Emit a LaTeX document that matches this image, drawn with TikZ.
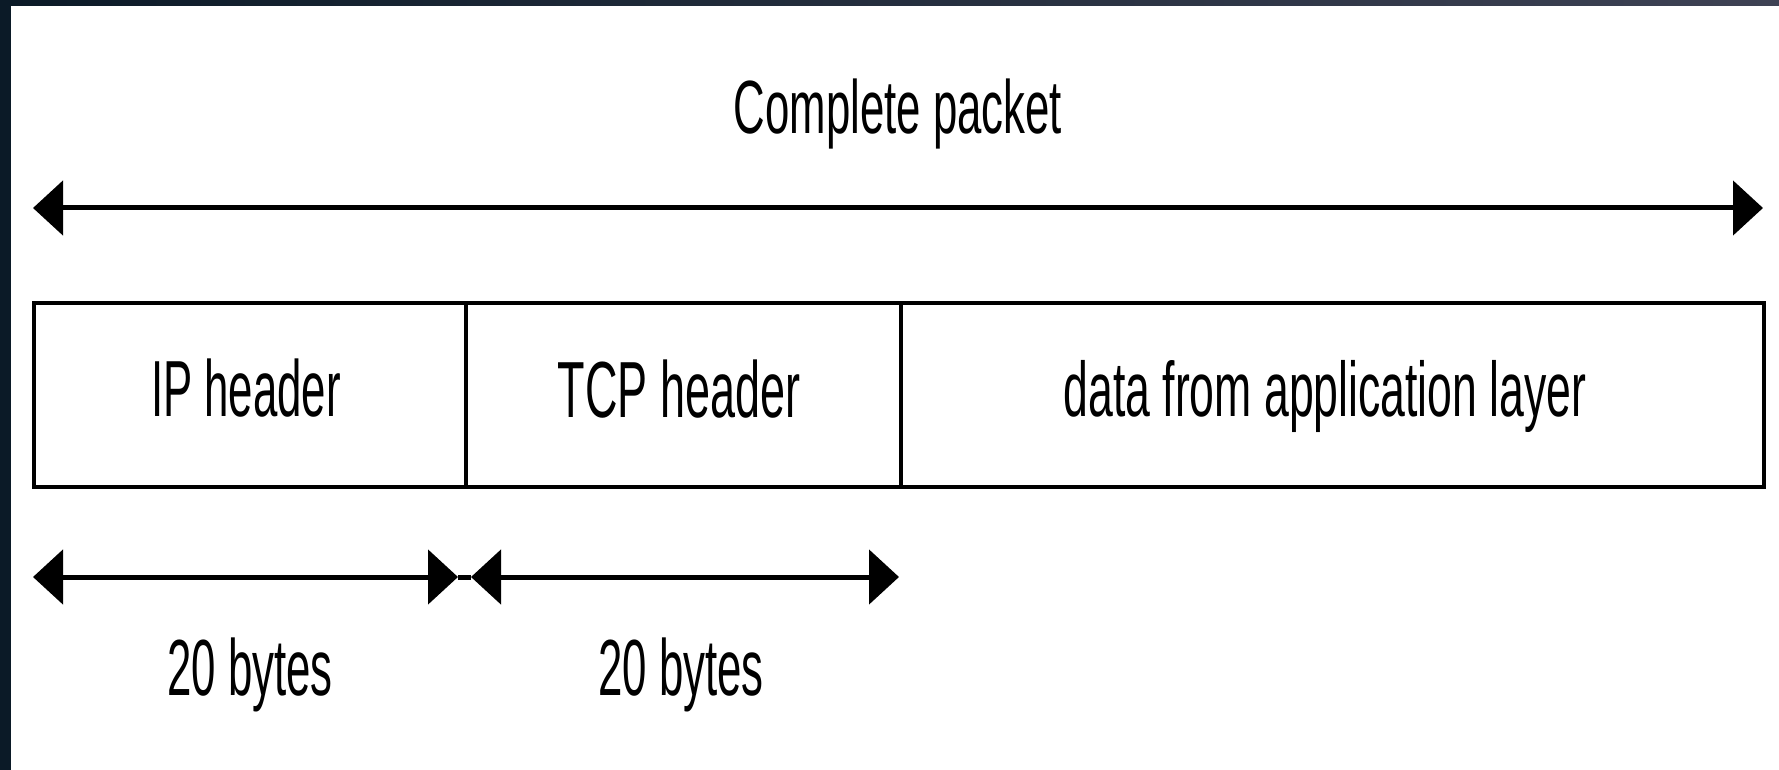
\documentclass[tikz,border=0pt]{standalone}
\usepackage{fontspec}
\setmainfont{Liberation Sans}
\usepackage{graphicx}
\usetikzlibrary{arrows.meta}
\definecolor{frameA}{HTML}{0B1A27}
\definecolor{frameB}{HTML}{3E4254}
\newcommand\narrowtext[3]{\scalebox{#1}[1]{\fontsize{#2}{#2}\selectfont #3}}
\tikzset{
  cell/.style={draw=black, line width=2pt, minimum height=92pt, inner sep=0pt},
  dim/.style={line width=2.5pt, {Triangle[length=15pt,width=27pt]}-{Triangle[length=15pt,width=27pt]}},
  dimline/.style={line width=2.5pt},
  lbl/.style={inner sep=0pt, anchor=base},
}
\begin{document}
\begin{tikzpicture}[x=0.5pt,y=-0.5pt]
\useasboundingbox (0,0) rectangle (1779,770);
\fill[white] (0,0) rectangle (1779,770);
% dark frame edges
\fill[frameA] (0,0) rectangle (11,770);
\shade[left color=frameA, right color=frameB] (0,0) rectangle (1779,6);

% title and overall arrow
\node[lbl] (title) at (898,134) {\narrowtext{0.58}{37.7pt}{Complete packet}};
\coordinate (tl) at (33,208);
\coordinate (tr) at (1763,208);
\draw[dim] (tl) -- (tr);

% packet cells
\node[cell, minimum width=216pt] (ip) at (250,395) {};
\node[cell, minimum width=217.5pt] (tcp) at (683.5,395) {};
\node[cell, minimum width=431.5pt] (data) at (1332.5,395) {};
\node[lbl] (iplbl) at (246,416) {\narrowtext{0.55}{39.8pt}{IP header}};
\node[lbl] (tcplbl) at (679,417) {\narrowtext{0.565}{39.8pt}{TCP header}};
\node[lbl] (datalbl) at (1325,416) {\narrowtext{0.576}{38.7pt}{data from application layer}};

% size arrows
\coordinate (a1s) at (33,577);
\coordinate (a1e) at (458,577);
\coordinate (a2s) at (471,577);
\coordinate (a2e) at (899,577);
\draw[dimline] (a1e) -- (a2s);
\draw[dim] (a1s) -- (a1e);
\draw[dim] (a2s) -- (a2e);
\node[lbl] (b1) at (250,695) {\narrowtext{0.55}{39.8pt}{20 bytes}};
\node[lbl] (b2) at (681,695) {\narrowtext{0.55}{39.8pt}{20 bytes}};
\end{tikzpicture}
\end{document}
